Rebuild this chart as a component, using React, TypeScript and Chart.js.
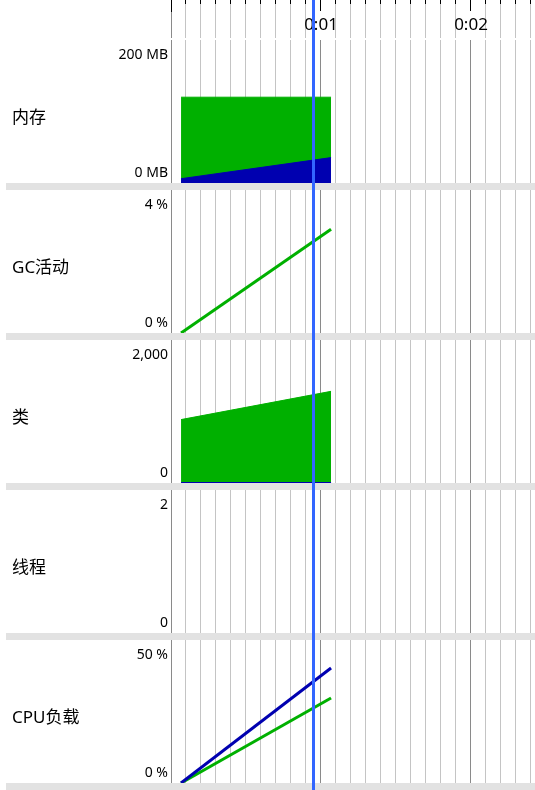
import React, { useEffect, useRef } from "react";
import { Chart, registerables } from "chart.js";

Chart.register(...registerables);

// ---------- time axis ----------
const timeMax = 2.4267; // seconds visible across the plot width
const timeStep = 0.1;
const timeTickValues = [1, 2];
const timeTickLabels = ["0:01", "0:02"];
const cursorTime = 0.95;
const sampleTimes = [0.067, 1.067];

// ---------- panels ----------
const panelTitles = ["内存", "GC活动", "类", "线程", "CPU负载"];

const memoryMax = 200;
const memoryTickLabels = ["0 MB", "200 MB"];
const heapSize = [120, 120];
const usedHeap = [6, 35.5];

const gcMax = 4;
const gcTickLabels = ["0 %", "4 %"];
const gcActivity = [0, 2.9];

const classesMax = 2000;
const classTickLabels = ["0", "2,000"];
const loadedClasses = [887, 1282];
const unloadedClasses = [0, 0];

const threadsMax = 2;
const threadTickLabels = ["0", "2"];
const liveThreads: number[] = [];
const daemonThreads: number[] = [];

const cpuMax = 50;
const cpuTickLabels = ["0 %", "50 %"];
const cpuUsage = [0, 40.2];
const gcCpu = [0, 29.7];

// ---------- styling ----------
const FONT = '"Noto Sans", "Noto Sans CJK SC", sans-serif';
const W = 535;
const AXIS_W = 171;
const PLOT_H = 143;
const SEP_H = 7;
const HEADER_H = 40;
const GREEN = "#00b000";
const BLUE = "#0000b0";
const CURSOR = "#3366ff";
const MINOR = "#c4c4c4";
const MAJOR = "#8a8a8a";
const SEP = "#e2e2e2";

const isMajor = (v: number) => Math.abs(v - Math.round(v)) < 1e-6;
const pts = (ys: number[]) => ys.map((y, i) => ({ x: sampleTimes[i], y }));

const area = (ys: number[], color: string, bw: number) => ({
  data: pts(ys),
  borderColor: color,
  backgroundColor: color,
  borderWidth: bw,
  fill: "origin",
  pointRadius: 0,
  tension: 0,
});
const line = (ys: number[], color: string, bw: number) => ({
  data: pts(ys),
  borderColor: color,
  backgroundColor: color,
  borderWidth: bw,
  fill: false,
  pointRadius: 0,
  tension: 0,
});

type PanelSpec = { title: string; max: number; tickLabels: string[]; datasets: any[] };

const panels: PanelSpec[] = [
  { title: panelTitles[0], max: memoryMax, tickLabels: memoryTickLabels, datasets: [area(usedHeap, BLUE, 1), area(heapSize, GREEN, 1)] },
  { title: panelTitles[1], max: gcMax, tickLabels: gcTickLabels, datasets: [line(gcActivity, GREEN, 3)] },
  { title: panelTitles[2], max: classesMax, tickLabels: classTickLabels, datasets: [area(unloadedClasses, BLUE, 2), area(loadedClasses, GREEN, 1)] },
  { title: panelTitles[3], max: threadsMax, tickLabels: threadTickLabels, datasets: [line(daemonThreads, BLUE, 3), line(liveThreads, GREEN, 3)] },
  { title: panelTitles[4], max: cpuMax, tickLabels: cpuTickLabels, datasets: [line(cpuUsage, BLUE, 3), line(gcCpu, GREEN, 3)] },
];

const timeScale = (colorFor: (v: number) => string) => ({
  type: "linear",
  min: 0,
  max: timeMax,
  border: { display: false },
  grid: {
    drawTicks: false,
    lineWidth: 1,
    color: (c: any) => colorFor(c.tick ? c.tick.value : 0),
  },
  ticks: { display: false, stepSize: timeStep, includeBounds: false },
  afterFit: (s: any) => {
    s.height = 0;
    s.paddingLeft = 0;
    s.paddingRight = 0;
  },
});

const drawCursor = (chart: any) => {
  const ctx = chart.ctx;
  const px = chart.scales.x.getPixelForValue(cursorTime);
  ctx.save();
  ctx.fillStyle = CURSOR;
  ctx.fillRect(Math.round(px - 1.5), 0, 3, chart.height);
  ctx.restore();
};

function makePanel(canvas: HTMLCanvasElement, spec: PanelSpec) {
  const decor = {
    id: "panelDecor",
    afterDraw(chart: any) {
      const ctx = chart.ctx;
      const area = chart.chartArea;
      ctx.save();
      ctx.fillStyle = SEP;
      ctx.fillRect(6, area.bottom, chart.width - 6, chart.height - area.bottom);
      ctx.fillStyle = "#000";
      ctx.font = `17px ${FONT}`;
      ctx.textAlign = "left";
      ctx.textBaseline = "middle";
      ctx.fillText(spec.title, 12, area.top + 78);
      ctx.restore();
      drawCursor(chart);
    },
  };
  return new Chart(canvas, {
    type: "line",
    data: { datasets: spec.datasets },
    options: {
      animation: false,
      responsive: false,
      maintainAspectRatio: false,
      events: [],
      layout: { padding: { left: 0, right: 0, top: 0, bottom: SEP_H } },
      plugins: { legend: { display: false }, tooltip: { enabled: false } },
      scales: {
        x: timeScale((v) => (isMajor(v) ? MAJOR : MINOR)) as any,
        y: {
          type: "linear",
          min: 0,
          max: spec.max,
          grid: { display: false, drawTicks: false },
          border: { display: false },
          afterFit: (s: any) => {
            s.width = AXIS_W;
            s.paddingTop = 0;
            s.paddingBottom = 0;
          },
          afterBuildTicks: (s: any) => {
            s.ticks = [
              { value: (spec.max * 10) / PLOT_H },
              { value: spec.max * (1 - 15 / PLOT_H) },
            ];
          },
          ticks: {
            padding: 3,
            color: "#000",
            font: { family: FONT, size: 14 },
            callback: (_v: any, i: number) => spec.tickLabels[i],
          },
        },
      },
    },
    plugins: [decor],
  } as any);
}

function makeHeader(canvas: HTMLCanvasElement) {
  const decor = {
    id: "headerDecor",
    afterDraw(chart: any) {
      const ctx = chart.ctx;
      const xs = chart.scales.x;
      ctx.save();
      ctx.fillStyle = "#000";
      xs.ticks.forEach((t: any) => {
        const px = Math.round(xs.getPixelForValue(t.value) - 0.5);
        const len = isMajor(t.value) ? (t.value === 0 ? 12 : 11) : 4;
        ctx.fillRect(px, 0, 1, len);
      });
      ctx.font = `17px ${FONT}`;
      ctx.textAlign = "center";
      ctx.textBaseline = "middle";
      timeTickValues.forEach((v, i) => {
        ctx.fillText(timeTickLabels[i], xs.getPixelForValue(v), 25);
      });
      ctx.restore();
      drawCursor(chart);
    },
  };
  return new Chart(canvas, {
    type: "line",
    data: { datasets: [] },
    options: {
      animation: false,
      responsive: false,
      maintainAspectRatio: false,
      events: [],
      layout: { padding: { left: 0, right: 0, top: 0, bottom: 2 } },
      plugins: { legend: { display: false }, tooltip: { enabled: false } },
      scales: {
        x: timeScale((v) => (v === 0 ? MAJOR : isMajor(v) ? "rgba(0,0,0,0)" : MINOR)) as any,
        y: {
          type: "linear",
          min: 0,
          max: 1,
          grid: { display: false, drawTicks: false },
          border: { display: false },
          ticks: { display: false },
          afterFit: (s: any) => {
            s.width = AXIS_W;
            s.paddingTop = 0;
            s.paddingBottom = 0;
          },
        },
      },
    },
    plugins: [decor],
  } as any);
}

function ChartCanvas({ top, height, make }: { top: number; height: number; make: (c: HTMLCanvasElement) => Chart }) {
  const ref = useRef<HTMLCanvasElement>(null);
  useEffect(() => {
    const chart = make(ref.current!);
    return () => chart.destroy();
  }, []);
  return (
    <canvas
      ref={ref}
      width={W}
      height={height}
      style={{ position: "absolute", left: 0, top, width: W, height, display: "block" }}
    />
  );
}

export default function App() {
  return (
    <div style={{ position: "absolute", left: 0, top: 0, width: W, height: 790, background: "#fff", overflow: "hidden" }}>
      <ChartCanvas top={0} height={HEADER_H} make={makeHeader} />
      {panels.map((p, i) => (
        <ChartCanvas
          key={i}
          top={HEADER_H + i * (PLOT_H + SEP_H)}
          height={PLOT_H + SEP_H}
          make={(c) => makePanel(c, p)}
        />
      ))}
    </div>
  );
}
